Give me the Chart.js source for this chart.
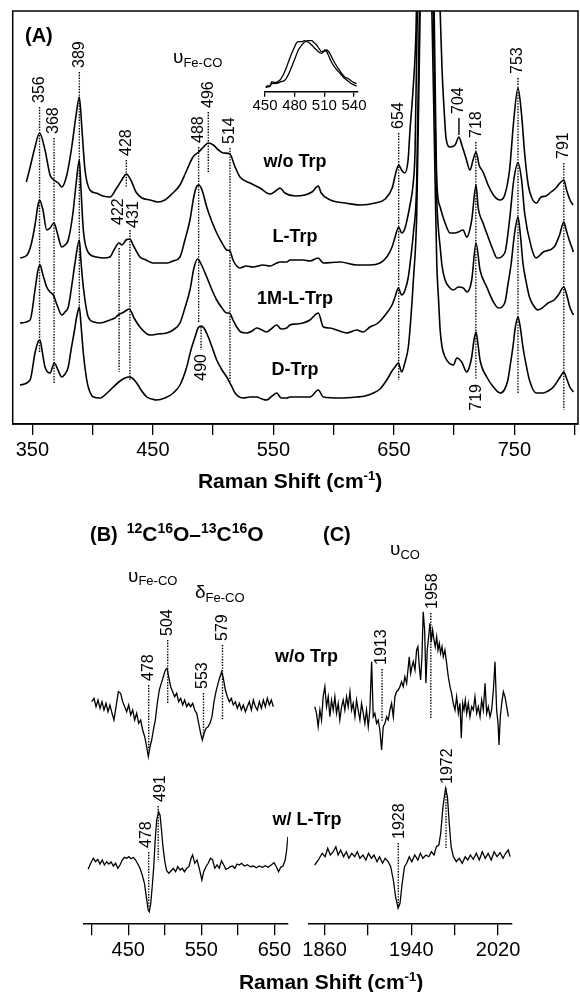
<!DOCTYPE html>
<html>
<head>
<meta charset="utf-8">
<script src="https://cdn.jsdelivr.net/npm/chart.js@4.4.1/dist/chart.umd.min.js"></script>
<style>
  body { margin: 0; background: #fff; }
  #wrap { position: relative; width: 580px; height: 992px; background: #fff; }
  #wrap canvas { position: absolute; left: 0; top: 0; }
</style>
</head>
<body>
<div id="wrap">
  <canvas id="panelA" width="580" height="992"></canvas>
  <canvas id="inset" width="580" height="992"></canvas>
  <canvas id="panelB" width="580" height="992"></canvas>
  <canvas id="panelC" width="580" height="992"></canvas>
</div>
<script>
var FONT = '"Liberation Sans", Arial, sans-serif';
Chart.defaults.font.family = FONT;
Chart.defaults.color = '#000';

// ---------- (A) resonance Raman, low frequency region ----------
var ticksA = [350, 400, 450, 500, 550, 600, 650, 700, 750, 800];
var labelsA = [350, 450, 550, 650, 750];
var namesA = ['w/o Trp', 'L-Trp', '1M-L-Trp', 'D-Trp'];
var offsetA = [224, 164, 99, 27];
var nameAtA = [262, 186.5, 124.5, 54];

var woShift = [345, 348, 352, 356, 360.5, 364.7, 368, 371.5, 374.5, 378.6,
  382.7, 386.3, 389, 391.2, 393.7, 397.8, 402.8, 408.6, 414.4, 420,
  424.2, 428, 431.7, 436, 441, 447.6, 454.2, 460, 465.8, 472.5,
  477.5, 483.3, 488, 492, 496, 500.2, 504.4, 508.5, 514, 517.6,
  522.3, 530.6, 538.9, 547.2, 553, 555.5, 559.6, 567.9, 576.2, 582,
  587.3, 589.7, 597.2, 609.6, 622, 634.5, 642.8, 648.6, 651.8, 654,
  656.4, 659, 661.8, 663.4, 665.9, 668.4, 670.5, 673, 677, 681,
  684.5, 686.5, 688.4, 690, 691.7, 693.3, 696.6, 700.8, 704, 706.4,
  709.8, 713.2, 715.7, 718.2, 720.7, 724, 728.2, 733.2, 738.1, 742,
  746, 749.5, 753, 756, 758.5, 761.5, 764.5, 768.5, 772.1, 776.2,
  780.4, 784.5, 787.8, 791, 793.3, 796.2, 798.7];
var woInt = [18, 32, 52, 67, 50, 25, 20, 17, 13, 25,
  53, 85, 103, 70, 30, 10, 7, 4, 3, 12,
  20, 26, 20, 8, 2, 0, -2, 0, 6, 15,
  28, 43, 48, 53, 57, 55, 50, 47, 46, 35,
  23, 17, 12, 6, 10, 12, 7, 4, 5, 8,
  14, 7, 0, -3, -5, -3, 1, 12, 28, 35,
  30, 27, 40, 70, 110, 170, 300, 500, 650, 500,
  330, 240, 189, 130, 90, 62, 53, 55, 63, 55,
  42, 30, 40, 48, 35, 28, 15, 4, 0, 5,
  30, 80, 112, 85, 47, 15, 2, -3, 3, 4,
  8, 12, 17, 20, 10, 0, -5];

var lShift = [340, 345.6, 348.9, 352.2, 354.7, 356, 358.8, 361.9, 364.7, 368,
  370.5, 374.4, 377.1, 379.8, 383.7, 386.2, 389, 390.4, 392.3, 396.2,
  403.4, 408.6, 414.4, 417.7, 422, 424.4, 427.7, 431, 433.6, 439.3,
  444.3, 450.1, 455.9, 461.5, 466.7, 472.5, 476.6, 480.8, 484.1, 486.6,
  488.2, 490.8, 494.7, 499.1, 503, 507.4, 511.3, 514, 516.5, 522.3,
  527.3, 533.1, 541.4, 547.2, 552.8, 555.5, 561.1, 563.8, 574.6, 580.4,
  587.1, 591.5, 605.3, 619.2, 630.2, 638.5, 644.1, 648.5, 651, 654,
  656.5, 659.3, 661.8, 663.4, 665.9, 667.6, 669.6, 672, 677, 681,
  684, 685.6, 688.4, 692.5, 696.6, 700.8, 703.5, 707.4, 710.5, 714.6,
  718.2, 719.9, 724, 728.2, 732.3, 735.6, 742, 746, 749.5, 753,
  756, 758.5, 764, 768, 774, 783, 787.5, 791, 793, 795.5,
  799];
var lInt = [2, 5, 15, 35, 55, 60, 50, 30, 32, 37,
  28, 13, 15, 20, 47, 75, 100, 70, 30, 8,
  3, 2, 3, 10, 17, 15, 20, 21, 15, 3,
  0, -3, -3, -3, -1, 3, 20, 40, 64, 74,
  75, 70, 53, 38, 27, 17, 10, 9, 0, -8,
  -6, -7, -5, -6, -3, -2, -2, 0, 0, -1,
  2, -3, -2, -5, -5, -3, 3, 13, 23, 33,
  27, 32, 45, 55, 75, 110, 260, 450, 600, 450,
  200, 80, 53, 37, 27, 27, 28, 30, 23, 40,
  75, 53, 37, 23, 10, 2, 7, 40, 80, 97,
  80, 47, 13, 2, 8, 13, 25, 38, 30, 20,
  8];

var mShift = [339.8, 348.1, 352.2, 354.7, 356.4, 358.8, 361.9, 364.7, 367.4, 370.5,
  374.4, 377.1, 379.8, 382.8, 385.4, 389, 390.4, 392.3, 396.4, 401.2,
  406.2, 414.4, 418.5, 421.3, 426, 430.5, 434.4, 439.3, 447.6, 454.2,
  461.5, 466.7, 472.5, 476.6, 480.8, 484.1, 487.2, 490, 494.7, 499.1,
  503, 507.4, 511.3, 513.5, 516.5, 519.6, 523.1, 527.9, 532.3, 536.2,
  540.6, 544.5, 548.1, 552.8, 556.4, 561.1, 563.8, 568.8, 574.6, 580.4,
  587.3, 591.5, 597, 602.6, 610.9, 619.2, 624.4, 630.2, 636.9, 644.1,
  648.5, 651, 653.7, 656.5, 659.3, 662, 664.3, 666.2, 669, 671,
  673, 677, 681, 684, 685.6, 686.7, 688.4, 690, 692.5, 695.8,
  699.4, 703.5, 707.6, 710.8, 714.6, 718.2, 721.5, 727.1, 732.6, 736.7,
  742, 744.6, 747.4, 750, 753, 755, 757.1, 759.8, 762.5, 765.6,
  769.5, 773, 778, 783, 786.5, 791, 793.5, 796, 799];
var mInt = [2, 5, 35, 55, 60, 50, 38, 33, 30, 20,
  10, 13, 18, 40, 62, 85, 63, 38, 8, 3,
  2, 5, 7, 10, 13, 16, 7, -2, -10, -9,
  -8, -5, 2, 17, 35, 57, 66, 61, 48, 35,
  25, 17, 12, 12, 5, -2, -7, -8, -6, -3,
  -5, -7, -4, 0, -4, -3, 0, 1, 2, 5,
  12, -2, -3, -5, -8, -5, -7, -2, 2, 12,
  20, 28, 37, 30, 35, 48, 70, 92, 145, 300,
  450, 580, 430, 220, 125, 100, 78, 59, 45, 38,
  35, 38, 37, 33, 45, 82, 55, 38, 23, 17,
  22, 40, 62, 90, 108, 90, 62, 43, 28, 20,
  15, 17, 22, 25, 30, 38, 30, 18, 10];

var dShift = [339.8, 348.1, 352.2, 354.7, 356.4, 358, 360.5, 364.7, 368.2, 371.3,
  374.4, 377.1, 379.8, 382.1, 384.6, 387.1, 389, 390.4, 392.3, 394.5,
  396.4, 400.6, 406.2, 412, 417.2, 422.8, 426.9, 430, 432.8, 436.6,
  440.2, 444.9, 449.3, 453.2, 460, 467, 472.5, 478.1, 481.6, 485,
  487.5, 490, 492.4, 496, 499.1, 503, 507.4, 511.3, 513.5, 515.7,
  518.2, 525.1, 530.6, 536.2, 540.6, 544.5, 549, 552.8, 556.4, 561.1,
  563.8, 574.6, 580.4, 587.3, 591.5, 605.3, 619.2, 626.1, 633, 638.5,
  644.1, 648.5, 651, 653.7, 656.5, 659.3, 662, 664.3, 666.2, 669,
  671.8, 674, 677, 681, 684, 685.6, 687.1, 688.4, 690, 692.5,
  695.8, 699.4, 702.2, 706.3, 710.5, 712.4, 714.6, 716.5, 718.2, 719.9,
  721.5, 727.1, 732.6, 738.1, 741.6, 744.6, 746.6, 748.8, 750.7, 753,
  755, 757.1, 759.8, 762.5, 768, 774, 777.9, 782.4, 788, 791,
  793.5, 796, 799];
var dInt = [12, 17, 44, 55, 57, 47, 30, 24, 34, 27,
  20, 23, 30, 47, 64, 82, 90, 72, 44, 22,
  10, 0, -1, 4, 10, 16, 19, 20, 19, 14,
  7, 0, -2, -3, -1, 4, 12, 30, 47, 60,
  69, 71, 69, 60, 50, 37, 27, 20, 15, 10,
  4, -1, 0, 0, -2, -3, 1, 4, -1, -1,
  0, 0, 0, 7, 0, -1, 0, 1, 4, 8,
  17, 26, 30, 34, 25, 35, 50, 82, 117, 184,
  386, 500, 560, 420, 230, 134, 97, 67, 50, 40,
  34, 32, 39, 35, 25, 29, 40, 57, 65, 52,
  37, 20, 10, 4, 7, 17, 32, 50, 69, 80,
  69, 50, 32, 17, 4, 4, 6, 10, 20, 25,
  18, 10, 5];

// dotted guides and band labels in (A)
var guideShiftA = [356, 368, 389, 428, 422, 431, 488, 496, 514, 654, 718, 753, 791, 490];
var guideTopA = [317, 286, 352, 264, 176, 194, 277, 312, 276, 291, 282, 346, 261, 97];
var guideEndA = [72, 41, 117, 237, 52, 44, 101, 252, 41, 44, 44, 31, 14, 74];
var bandTextA = ['356', '368', '389', '428', '422', '431', '488', '496', '514', '654', '704', '718', '753', '791', '490', '719'];
var bandShiftA = [356, 368, 389, 428, 421.5, 434, 488, 496, 514, 654, 704, 718.5, 753, 791, 490.5, 718.5];
var bandAtA = [317, 286, 352, 264, 195, 192, 277, 312, 276, 291, 306, 282, 346, 261, 74, 44];
var bandDirA = ['up', 'up', 'up', 'up', 'up', 'up', 'up', 'up', 'up', 'up', 'up', 'up', 'up', 'up', 'down', 'down'];

// inset: 450-540 cm-1 band of the two samples
var ticksIn = [450, 480, 510, 540];
var in1Shift = [450.7, 453, 455, 456.8, 460, 465.2, 468.5, 471.9, 474.5, 477,
  479.5, 482, 484.5, 487.1, 489.6, 492.1, 494.6, 497.2, 499.7, 502.2,
  504.7, 507.3, 509, 510.6, 512.3, 514, 516.5, 519, 522.4, 525.8,
  529.2, 532.5, 535.9, 539.3, 542.6];
var in1Int = [4.4, 6, 5, 10, 9, 11.7, 17, 25, 32, 38.4,
  44, 49, 50, 50, 51, 50, 49, 46.7, 44, 41.7,
  39.5, 38.4, 40, 41.7, 40, 36.7, 31, 26.7, 22, 18.4,
  14.5, 11.7, 9, 7, 5.5];
var in2Shift = [450.7, 454, 457, 461.8, 466, 470.3, 473.6, 477, 480.4, 483.7,
  487, 490.4, 493.8, 497.2, 499.7, 502.2, 504.7, 507.3, 509.8, 512.4,
  514, 515.6, 518.2, 520.7, 524.1, 527.5, 530.9, 534.2, 538.4, 542.6];
var in2Int = [4.4, 5, 8, 8.4, 10, 11.7, 17, 25, 33.5, 41.7,
  46.5, 50, 51, 51, 49, 46.7, 43, 40, 40.5, 41.7,
  40.5, 38.4, 33, 28.4, 23, 18.4, 14.5, 13, 10, 8];

// ---------- (B) 12C16O - 13C16O difference spectra ----------
var ticksB = [400, 450, 500, 550, 600, 650];
var labelsB = [450, 550, 650];
var offsetB = [220.3, 58.3];
var bTopShift = [400.0, 403.2, 405.9, 408.6, 411.4, 414.1, 416.8, 419.6, 422.3, 425.0,
  427.8, 430.5, 433.3, 436.5, 439.6, 442.4, 445.1, 447.9, 450.6, 453.3,
  456.1, 458.8, 461.5, 464.3, 467.0, 469.8, 472.5, 475.2, 477.5, 479.8,
  482.1, 484.4, 487.1, 489.8, 492.6, 495.3, 498.0, 500.8, 503.1, 505.3,
  508.1, 510.8, 513.5, 516.3, 519.0, 521.8, 524.5, 527.2, 530.0, 532.7,
  535.4, 538.2, 540.9, 543.7, 546.4, 549.1, 551.4, 553.7, 556.4, 559.2,
  561.9, 564.6, 567.4, 570.1, 572.9, 575.6, 577.9, 580.2, 582.9, 585.6,
  588.4, 591.1, 593.8, 596.6, 599.3, 602.1, 604.8, 607.5, 610.3, 613.0,
  615.7, 618.5, 621.2, 624.0, 626.7, 629.4, 632.2, 634.9, 637.6, 640.4,
  643.1, 645.8, 648.6];
var bTopInt = [1.3, 4.7, -3.7, 3, -5.3, 1.3, -7, -0.3, -8.7, -2,
  -10.3, -17, -3.7, 11.3, 9.7, 1.3, -3.7, -8.7, -2, -12,
  -7, -17, -10.3, -20.3, -17, -27, -33.7, -43.7, -53.7, -43.7,
  -37, -27, -17, 0, 13.3, 19.7, 26.3, 33, 34.7, 26.3,
  16.3, 11.3, 6.3, 9.7, 1.3, 4.7, -2, 3, -3.7, -0.3,
  -3.7, -0.3, -7, -10.3, -20.3, -30.3, -37, -30.3, -25.3, -23.7,
  -20.3, -13.7, 1.3, 11.3, 19.7, 26.3, 31.3, 24.7, 13, 6.3,
  1.3, 4.7, -2, 1.3, -5.3, -0.3, -7, -2, -8.7, -3.7,
  1.3, -7, 3, -3.7, -7, 1.3, -5.3, 3, -3.7, 4.7,
  -2, 3, -3.7];
var bBotShift = [395.1, 398.7, 402.2, 405.3, 408.3, 411.4, 414.4, 417.4, 420.5, 423.5,
  426.6, 429.6, 432.7, 435.7, 438.7, 441.8, 444.8, 447.9, 450.9, 453.9,
  457.0, 460.0, 463.1, 466.1, 469.1, 472.2, 474.7, 477.3, 478.8, 480.8,
  482.8, 484.9, 486.9, 488.9, 491.5, 493.5, 495.5, 497.5, 500.1, 502.6,
  505.6, 508.7, 511.7, 514.8, 517.8, 520.9, 523.9, 526.9, 530.0, 533.0,
  536.1, 538.1, 541.1, 544.2, 547.2, 550.8, 553.3, 556.3, 559.4, 562.4,
  565.5, 568.5, 571.5, 574.6, 577.6, 580.7, 583.7, 586.8, 589.8, 592.8,
  595.9, 598.9, 602.0, 605.0, 609.1, 613.1, 617.2, 621.2, 625.3, 629.3,
  633.4, 637.5, 641.5, 645.6, 649.6, 652.7, 655.7, 658.7, 661.8, 664.8,
  666.8, 668.4];
var bBotInt = [-4.3, 1.7, 6.7, 3.3, 5.7, 1, 5, 0, 3.3, 1,
  3, -1, 1.7, -3.3, 0, 5, 7.7, 6.7, 8.3, 6.3,
  7.7, 5, 1, -3.3, -10, -18.3, -31.7, -45, -46.7, -38.3,
  -21.7, -1.7, 25, 45, 53.3, 50, 35, 18.3, 3.3, -5.7,
  -8.3, -5.7, -3.3, -6.7, -1.7, -5, -3.3, -6.7, -3.3, -1.7,
  6.7, 10, 1.7, 5, -3.3, -15, -6.7, -1.7, 1.7, 6.7,
  5, -3.3, 0, -3.3, 4.3, 0, -4.3, -3.3, -1.7, -1,
  -3.3, 1, 0, 1.7, -1, 0.3, -1.7, -1, -2.7, -1,
  -2.3, -0.7, -2.3, 0, 2.3, -1.7, -6.7, -2.3, -1, 5,
  15, 28.3];
var guideShiftB = [478, 504, 553, 579, 478, 491];
var guideTopB = [238.3, 283.3, 230.3, 278.3, 71.3, 117.3];
var guideEndB = [173.3, 220.3, 186.3, 203.3, 15.3, 63.3];
var bandTextB = ['478', '504', '553', '579', '478', '491'];
var bandShiftB = [478, 504, 552, 579, 474.5, 494];
var bandAtB = [238.3, 283.3, 230.3, 278.3, 71.3, 117.3];

// ---------- (C) CO stretch region ----------
var ticksC = [1860, 1900, 1940, 1980, 2020];
var labelsC = [1860, 1940, 2020];
var offsetC = [213.3, 68.3];
var cTopShift = [1851.0, 1852.6, 1854.1, 1855.7, 1857.2, 1858.7, 1860.3, 1861.8, 1863.4, 1864.9,
  1866.4, 1868.0, 1869.5, 1871.0, 1872.6, 1874.1, 1875.7, 1877.2, 1878.7, 1880.3,
  1881.8, 1883.4, 1884.9, 1886.4, 1888.0, 1889.5, 1891.0, 1892.6, 1894.1, 1895.7,
  1897.2, 1898.7, 1900.3, 1901.8, 1903.4, 1904.9, 1906.4, 1908.0, 1909.5, 1911.0,
  1912.6, 1914.1, 1915.7, 1917.2, 1918.7, 1920.3, 1921.8, 1923.4, 1924.9, 1926.4,
  1928.0, 1929.5, 1931.0, 1932.6, 1934.1, 1935.7, 1937.2, 1938.1, 1939.4, 1940.6,
  1941.8, 1943.4, 1944.9, 1946.1, 1947.4, 1948.6, 1949.8, 1951.0, 1952.3, 1953.5,
  1954.7, 1956.0, 1957.2, 1958.4, 1959.7, 1960.9, 1962.1, 1963.4, 1964.6, 1965.8,
  1967.0, 1968.3, 1969.5, 1971.0, 1972.6, 1974.1, 1975.7, 1977.2, 1978.7, 1980.3,
  1981.8, 1983.4, 1984.9, 1986.1, 1987.4, 1988.6, 1989.8, 1991.1, 1992.6, 1994.1,
  1995.7, 1997.2, 1998.7, 2000.3, 2001.8, 2003.4, 2004.9, 2006.4, 2008.0, 2009.5,
  2011.0, 2012.6, 2014.1, 2015.7, 2017.2, 2018.7, 2020.0, 2020.9, 2022.1, 2023.4,
  2024.9, 2026.4, 2028.0, 2029.5];
var cTopInt = [3.3, -3.3, -16.7, 0, -10, 13.3, 23.3, 3.3, 13.3, -6.7,
  10, 0, 13.3, -3.3, 6.7, -10, 3.3, 10, 0, 13.3,
  3.3, 18.3, 0, 6.7, -6.7, 10, 0, -10, 6.7, -3.3,
  -13.3, 0, -16.7, 0, 48.3, -6.7, -3.3, -13.3, -10, -20,
  -40, -16.7, -13.3, -6.7, -10, 0, 6.7, -6.7, 13.3, 18.3,
  20, 23.3, 28.3, 23.3, 33.3, 26.7, 43.3, 53.3, 36.7, 43.3,
  48.3, 40, 60, 63.3, 43.3, 30, 53.3, 98.3, 80, 26.7,
  60, 73.3, 86.7, 68.3, 80, 70, 63.3, 73.3, 60, 66.7,
  56.7, 63.3, 53.3, 60, 46.7, 33.3, 23.3, 16.7, 6.7, 0,
  13.3, -3.3, 6.7, -28.3, 6.7, 0, 10, -3.3, 6.7, -6.7,
  3.3, 0, 13.3, -3.3, 3.3, -6.7, 10, 0, 26.7, -3.3,
  3.3, -6.7, 0, 20, 48.3, 0, -13.3, -35, -6.7, 6.7,
  18.3, 13.3, 3.3, -6.7];
var cBotShift = [1850.9, 1854.3, 1857.8, 1860.5, 1862.9, 1865.3, 1868.0, 1870.4, 1872.5, 1874.8,
  1877.6, 1880.0, 1882.4, 1885.1, 1887.8, 1890.2, 1892.6, 1895.4, 1898.1, 1900.5,
  1903.2, 1905.6, 1908.4, 1910.7, 1913.5, 1915.9, 1918.6, 1921.0, 1923.4, 1925.5,
  1927.8, 1929.6, 1931.6, 1933.7, 1935.7, 1938.1, 1940.5, 1943.2, 1946.0, 1948.4,
  1950.7, 1953.5, 1956.2, 1958.6, 1961.0, 1963.1, 1965.4, 1967.1, 1969.2, 1971.6,
  1973.3, 1975.0, 1976.7, 1978.8, 1981.5, 1984.3, 1987.0, 1989.7, 1992.1, 1994.5,
  1997.2, 2000.0, 2002.7, 2005.5, 2008.2, 2010.9, 2013.7, 2016.4, 2019.1, 2021.9,
  2024.6, 2027.0, 2029.4, 2031.1];
var cBotInt = [-10, -5, 1.7, -1.7, 6.7, 0, 3.3, 8.3, 0, 5,
  -1.7, 3.3, -3.3, 1.7, -1.7, 3.3, -3.3, 0, -5, 1.7,
  -3.3, 0, -6.7, -1.7, -8.3, -3.3, -6.7, -11.7, -25, -41.7,
  -53.3, -48.3, -28.3, -11.7, -8.3, -1.7, -6.7, 0, -5, 1.7,
  -3.3, 0, -1.7, 3.3, 0, 8.3, 10, 21.7, 48.3, 66.7,
  58.3, 31.7, 8.3, -1.7, -6.7, -3.3, -8.3, -1.7, -5, 0,
  -4.3, 1.7, -5, 3.3, -3.3, 1.7, -5, 3.3, -1.7, 2.3,
  -3.3, 1.7, 5, -1.7];
var guideShiftC = [1913, 1958, 1928, 1972];
var guideTopC = [254.3, 310.3, 80.3, 135.3];
var guideEndC = [201.3, 205.3, 16.3, 75.3];
var bandTextC = ['1913', '1958', '1928', '1972'];
var bandShiftC = [1912.6, 1959.5, 1929.5, 1973.8];
var bandAtC = [254.3, 310.3, 80.3, 135.3];

// ---------- helpers ----------
function toPoints(xs, ys, off) {
  return xs.map(function (x, i) { return { x: x, y: ys[i] + off }; });
}

function trace(xs, ys, off, width, smooth) {
  return {
    data: toPoints(xs, ys, off), borderColor: '#000', borderWidth: width,
    pointRadius: 0, fill: false, tension: 0,
    cubicInterpolationMode: smooth ? 'monotone' : 'default'
  };
}

function guides(xs, tops, ends, solid) {
  return xs.map(function (x, i) {
    return {
      data: [{ x: x, y: tops[i] }, { x: x, y: ends[i] }],
      borderColor: '#000', borderWidth: 1.4, borderDash: solid ? [] : [1.4, 1.4],
      pointRadius: 0, fill: false
    };
  });
}

function xAxis(min, max, ticks, labels, size, tickLen, pad, height) {
  return {
    type: 'linear', min: min, max: max, offset: false,
    afterBuildTicks: function (ax) { ax.ticks = ticks.map(function (v) { return { value: v }; }); },
    afterFit: function (ax) { ax.height = height; },
    ticks: {
      autoSkip: false, maxRotation: 0, minRotation: 0, padding: pad, color: '#000',
      font: { size: size },
      callback: function (v) { return labels.indexOf(v) >= 0 ? String(v) : ''; }
    },
    grid: { display: true, drawOnChartArea: false, drawTicks: true, tickLength: tickLen, color: '#000', lineWidth: 1.3 },
    border: { display: true, color: '#000', width: 1.5 }
  };
}

function rich(ctx, parts, x, y) {
  ctx.textAlign = 'left';
  ctx.textBaseline = 'alphabetic';
  parts.forEach(function (p) {
    ctx.font = (p[2] ? 'bold ' : '') + p[1] + 'px ' + FONT;
    ctx.fillText(p[0], x, y - p[3]);
    x += ctx.measureText(p[0]).width;
  });
  return x;
}

function richWidth(ctx, parts) {
  var w = 0;
  parts.forEach(function (p) {
    ctx.font = (p[2] ? 'bold ' : '') + p[1] + 'px ' + FONT;
    w += ctx.measureText(p[0]).width;
  });
  return w;
}

function bandLabels(ctx, sx, sy, texts, shifts, ats, dirs) {
  ctx.font = '16px ' + FONT;
  texts.forEach(function (t, i) {
    var dir = dirs ? dirs[i] : 'up';
    var x = sx.getPixelForValue(shifts[i]);
    var y = sy.getPixelForValue(ats[i]) + (dir === 'up' ? -4 : 4);
    ctx.save();
    ctx.translate(x, y);
    ctx.rotate(-Math.PI / 2);
    ctx.textAlign = dir === 'up' ? 'left' : 'right';
    ctx.textBaseline = 'middle';
    ctx.fillText(t, 0, 0);
    ctx.restore();
  });
}

function centered(ctx, text, x, y, font) {
  ctx.font = font;
  ctx.textAlign = 'center';
  ctx.textBaseline = 'middle';
  ctx.fillText(text, x, y);
}

var titleParts = [['Raman Shift (cm', 21, true, 0], ['-1', 13, true, 8], [')', 21, true, 0]];

function makeChart(id, datasets, xOpts, yMax, pad, draw) {
  return new Chart(document.getElementById(id), {
    type: 'line',
    data: { datasets: datasets },
    options: {
      responsive: false, animation: false, events: [], devicePixelRatio: 1,
      layout: { padding: pad },
      plugins: { legend: { display: false }, tooltip: { enabled: false } },
      scales: { x: xOpts, y: { type: 'linear', display: false, min: 0, max: yMax } }
    },
    plugins: [{
      id: id + 'Text',
      afterDraw: function (chart) {
        var ctx = chart.ctx;
        ctx.save();
        ctx.fillStyle = '#000';
        ctx.strokeStyle = '#000';
        draw(ctx, chart.scales.x, chart.scales.y, chart);
        ctx.restore();
      }
    }]
  });
}

// ---------- (A) ----------
var setsA = [
  trace(woShift, woInt, offsetA[0], 1.6, true),
  trace(lShift, lInt, offsetA[1], 1.6, true),
  trace(mShift, mInt, offsetA[2], 1.6, true),
  trace(dShift, dInt, offsetA[3], 1.6, true)
].concat(guides(guideShiftA, guideTopA, guideEndA, false))
 .concat(guides([704], [289], [306], true));

makeChart('panelA', setsA, xAxis(333.7, 802.8, ticksA, labelsA, 20, 11, 3, 40), 413,
  { left: 12.7, right: 2, top: 11, bottom: 528 },
  function (ctx, sx, sy, chart) {
    var a = chart.chartArea;
    ctx.lineWidth = 1.5;
    ctx.strokeRect(a.left, a.top, a.right - a.left, a.bottom - a.top);
    bandLabels(ctx, sx, sy, bandTextA, bandShiftA, bandAtA, bandDirA);
    namesA.forEach(function (n, i) {
      centered(ctx, n, sx.getPixelForValue(568), sy.getPixelForValue(nameAtA[i]), 'bold 18px ' + FONT);
    });
    ctx.font = 'bold 20px ' + FONT;
    ctx.textAlign = 'left';
    ctx.textBaseline = 'alphabetic';
    ctx.fillText('(A)', 25, 42);
    rich(ctx, [['\u03C5', 19, false, 0], ['Fe-CO', 13, false, -4]], 173, 63);
    rich(ctx, titleParts, 290 - richWidth(ctx, titleParts) / 2, 488);
  });

// ---------- inset ----------
makeChart('inset', [
  trace(in1Shift, in1Int, 0, 1.3, true),
  trace(in2Shift, in2Int, 0, 1.3, true)
], xAxis(450, 544, ticksIn, ticksIn, 15, 5, 0, 25), 55.7,
  { left: 265, right: 222, top: 36, bottom: 875.3 },
  function () {});

// ---------- (B) ----------
var setsB = [
  trace(bTopShift, bTopInt, offsetB[0], 1.3, false),
  trace(bBotShift, bBotInt, offsetB[1], 1.3, false)
].concat(guides(guideShiftB, guideTopB, guideEndB, false));

makeChart('panelB', setsB, xAxis(388.5, 668.5, ticksB, labelsB, 20, 12, 3, 45), 323.3,
  { left: 83.3, right: 292.1, top: 600, bottom: 23.7 },
  function (ctx, sx, sy) {
    bandLabels(ctx, sx, sy, bandTextB, bandShiftB, bandAtB, null);
    ctx.font = 'bold 20px ' + FONT;
    ctx.textAlign = 'left';
    ctx.textBaseline = 'alphabetic';
    ctx.fillText('(B)', 90, 541);
    rich(ctx, [['12', 14, true, 8], ['C', 21, true, 0], ['16', 14, true, 8], ['O', 21, true, 0],
      ['\u2013', 21, true, 0], ['13', 14, true, 8], ['C', 21, true, 0], ['16', 14, true, 8], ['O', 21, true, 0]], 126.7, 541);
    rich(ctx, [['\u03C5', 19, false, 0], ['Fe-CO', 13, false, -3]], 128, 582);
    rich(ctx, [['\u03B4', 19, false, 0], ['Fe-CO', 13, false, -4]], 195, 598);
    centered(ctx, 'w/o Trp', 306.5, 657, 'bold 18px ' + FONT);
    centered(ctx, 'w/ L-Trp', 307, 820, 'bold 18px ' + FONT);
    rich(ctx, titleParts, 331 - richWidth(ctx, titleParts) / 2, 989);
  });

// ---------- (C) ----------
var setsC = [
  trace(cTopShift, cTopInt, offsetC[0], 1.3, false),
  trace(cBotShift, cBotInt, offsetC[1], 1.3, false)
].concat(guides(guideShiftC, guideTopC, guideEndC, false));

makeChart('panelC', setsC, xAxis(1845, 2032.6, ticksC, labelsC, 20, 12, 3, 45), 323.3,
  { left: 308.3, right: 68.3, top: 600, bottom: 23.7 },
  function (ctx, sx, sy) {
    bandLabels(ctx, sx, sy, bandTextC, bandShiftC, bandAtC, null);
    ctx.font = 'bold 20px ' + FONT;
    ctx.textAlign = 'left';
    ctx.textBaseline = 'alphabetic';
    ctx.fillText('(C)', 323, 541);
    rich(ctx, [['\u03C5', 19, false, 0], ['CO', 13, false, -3.5]], 390, 555);
  });
</script>
</body>
</html>
